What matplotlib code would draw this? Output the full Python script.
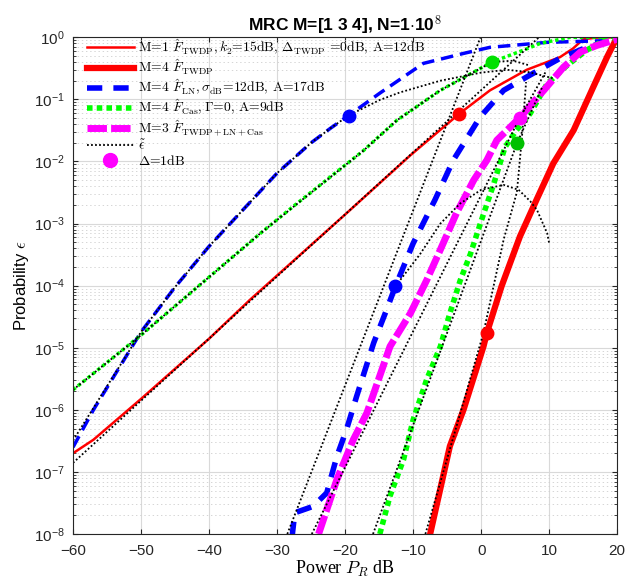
import matplotlib
matplotlib.use('Agg')
import matplotlib.pyplot as plt
from matplotlib.ticker import LogLocator, NullFormatter

plt.rcParams['font.family'] = ['Liberation Sans', 'DejaVu Sans']
plt.rcParams['mathtext.fontset'] = 'cm'
plt.rcParams['lines.scale_dashes'] = False

# simulated curves (P in dB, probability)
p_twdp1 = [-60, -57, -50, -40, -34, -20, -10.4, -3.2, 1.3, 6.7, 11.6, 13.5, 15, 17, 20]
f_twdp1 = [2.0e-7, 3.3e-7, 1.5e-6, 1.4e-5, 5.9e-5, 1.4e-3, 1.26e-2, 5.9e-2, 0.14, 0.30, 0.48, 0.66, 0.93, 0.99, 1.0]

p_twdp4 = [-7.5, -4.6, -2.6, 0.34, 0.84, 3.0, 5.7, 8.2, 10.6, 13.6, 16.5, 18.5, 19.5, 20]
f_twdp4 = [1e-8, 2.6e-7, 1.0e-6, 1.05e-5, 1.74e-5, 9.8e-5, 6.2e-4, 2.5e-3, 9.3e-3, 3.2e-2, 0.16, 0.48, 0.79, 1.0]

p_ln1 = [-60, -57, -50, -45, -40, -35.4, -30, -25, -22.2, -19.5, -14.9, -8.5, -2.6, 1.3, 9.7, 19.4, 20]
f_ln1 = [2.5e-7, 1.0e-6, 1.8e-5, 9.5e-5, 4.3e-4, 1.5e-3, 6.5e-3, 2.0e-2, 3.4e-2, 5.5e-2, 0.126, 0.38,
         0.55, 0.69, 0.83, 0.89, 0.89]

p_ln4 = [-27.8, -27.4, -25.5, -24.7, -22.7, -21.2, -19.8, -18.3, -15.8, -13.9, -12.6, -10, -6.8,
         -4.1, -0.15, 3.3, 6.7, 11.6, 15.5, 19.4, 20]
f_ln4 = [9e-9, 2.2e-8, 2.6e-8, 2.8e-8, 4.6e-8, 1.8e-7, 4.8e-7, 1.66e-6, 1.2e-5, 4.1e-5, 9.8e-5,
         4.8e-4, 2.4e-3, 1.05e-2, 5.2e-2, 0.14, 0.23, 0.46, 0.69, 0.89, 0.91]

p_cas1 = [-60, -50, -32.5, -27.6, -17.3, -12.4, -6, 1.6, 6.2, 8.7, 13.1, 20]
f_cas1 = [2.1e-6, 1.6e-5, 6.9e-4, 1.9e-3, 1.5e-2, 4.6e-2, 0.14, 0.40, 0.62, 0.8, 1.0, 1.0]

p_cas4 = [-14.9, -13.4, -11.4, -10, -8.0, -6.0, -4.6, -3.1, -1.6, 0.0, 1.8, 3.5, 5.2, 7.2, 9.7,
          12.6, 15.5, 18.5, 20]
f_cas4 = [1e-8, 4.1e-8, 1.6e-7, 6.9e-7, 3.1e-6, 1.05e-5, 3.6e-5, 1.2e-4, 3.2e-4, 1.1e-3, 4.2e-3,
          1.7e-2, 3.2e-2, 5.9e-2, 0.18, 0.35, 0.62, 0.95, 1.0]

p_mix3 = [-23.9, -21.2, -18.8, -16.8, -13.4, -10.4, -8.0, -6.0, -3.6, -1.1, 0.84, 2.3, 5.7, 9.2,
          12.1, 14.6, 17.0, 19.4, 20]
f_mix3 = [1e-8, 7.6e-8, 3.3e-7, 8.9e-7, 1.05e-5, 3.6e-5, 1.23e-4, 3.8e-4, 1.5e-3, 5.0e-3, 1.05e-2,
          2.2e-2, 5.1e-2, 0.14, 0.33, 0.58, 0.74, 0.89, 0.93]

# approximations (black dotted)
p_e_twdp1 = [-60, 8.5]
e_twdp1 = [1.4e-7, 1.0]
p_e_ln1 = [-60, -50, -45, -40, -35.4, -30, -25, -22.2, -19.5, -14.9, -11.9, -6, 0, 3.8, 7, 10.5]
e_ln1 = [3.2e-7, 1.8e-5, 9.5e-5, 4.3e-4, 1.5e-3, 6.5e-3, 2.0e-2, 3.4e-2, 5.5e-2, 9.8e-2, 0.13, 0.20,
         0.27, 0.30, 0.275, 0.22]
p_e_cas1 = [-60, -50, -32.5, -17.3, -12.4, -6, 1.6, 4.7, 7]
e_cas1 = [2.1e-6, 1.6e-5, 6.9e-4, 1.5e-2, 4.6e-2, 0.14, 0.40, 0.42, 0.355]
p_e_ln4 = [-28.5, -0.1]
e_ln4 = [1e-8, 1.0]
p_e_ln4b = [-12.6, -9, -6, -3.1, 0, 3.3, 5.5, 7.2, 8.2, 9.7, 10]
e_ln4b = [9.8e-5, 3.2e-4, 1.0e-3, 2.1e-3, 3.5e-3, 4.2e-3, 3.5e-3, 2.3e-3, 1.66e-3, 7e-4, 4.8e-4]
p_e_mix3 = [-24.9, 5.7, 9.5]
e_mix3 = [1e-8, 5.1e-2, 0.28]
p_e_cas4 = [-15.9, 5.25, 9.0]
e_cas4 = [1e-8, 1.95e-2, 0.16]
p_e_twdp4 = [-8.2, 0.34, 3.3, 5.25, 6.0, 6.6]
e_twdp4 = [1e-8, 1.74e-5, 5.5e-4, 3.2e-3, 2.5e-2, 0.19]

# delta = 1 dB points
mk_p = [-3.2, -19.5, 1.6, -12.6, 5.7, 5.25, 0.84]
mk_e = [5.9e-2, 5.5e-2, 0.40, 9.8e-5, 5.1e-2, 1.95e-2, 1.74e-5]
mk_c = ['red', 'blue', '#00e000', 'blue', 'magenta', '#00c000', 'red']

fig = plt.figure(figsize=(6.35, 5.83), dpi=100)
ax = fig.add_axes([0.115, 0.084, 0.857, 0.852])

dot = dict(color='black', lw=1.3, dashes=(1.3, 1.6))

h1, = ax.plot(p_twdp1, f_twdp1, color='red', lw=1.8)
h2, = ax.plot(p_twdp4, f_twdp4, color='red', lw=4.5)
ax.plot(p_ln1, f_ln1, color='blue', lw=2.5, dashes=(9, 5))
h3, = ax.plot(p_ln4, f_ln4, color='blue', lw=4, dashes=(11, 8))
ax.plot(p_cas1, f_cas1, color='#00ff00', lw=2.5, dashes=(2.5, 2))
h4, = ax.plot(p_cas4, f_cas4, color='#00ff00', lw=4, dashes=(4, 3))
h5, = ax.plot(p_mix3, f_mix3, color='magenta', lw=5, dashes=(14, 3))
h6, = ax.plot(p_e_twdp1, e_twdp1, **dot)
for px, ex in [(p_e_ln1, e_ln1), (p_e_cas1, e_cas1), (p_e_ln4, e_ln4), (p_e_ln4b, e_ln4b),
               (p_e_mix3, e_mix3), (p_e_cas4, e_cas4), (p_e_twdp4, e_twdp4)]:
    ax.plot(px, ex, **dot)
for p, e, c in zip(mk_p, mk_e, mk_c):
    ax.plot(p, e, 'o', color=c, ms=9)
h7, = ax.plot([], [], 'o', color='magenta', ms=10)

ax.set_yscale('log')
ax.set_xlim(-60, 20)
ax.set_ylim(1e-8, 1)
ax.set_xticks(range(-60, 21, 10))
ax.yaxis.set_major_locator(LogLocator(base=10, numticks=20))
ax.yaxis.set_minor_locator(LogLocator(base=10, subs=range(2, 10), numticks=20))
ax.yaxis.set_minor_formatter(NullFormatter())
ax.tick_params(which='both', direction='in', top=True, right=True, labelsize=11, colors='#262626')
ax.tick_params(axis='x', pad=7)
ax.tick_params(axis='y', pad=6)
ax.grid(True, which='major', color='#d9d9d9', lw=0.8)
ax.grid(True, which='minor', axis='y', color='#cfcfcf', lw=0.6, ls=(0, (1, 2)))
for s in ax.spines.values():
    s.set_color('#262626')

ax.set_title(r'MRC M=[1 3 4], N=1$\mathbf{\cdot}$10$^{\mathbf{8}}$', fontsize=12.5, fontweight='bold', pad=4)
ax.set_ylabel(r'Probability $\epsilon$', fontsize=12, labelpad=2)
ax.set_xlabel(r'Power $P_R$ dB', fontsize=13, family='Liberation Serif', labelpad=1)

labels = [r'M=1 $\hat{F}_{\mathrm{TWDP}}, k_2$=15dB, $\Delta_{\mathrm{TWDP}}$ =0dB, A=12dB',
          r'M=4 $\hat{F}_{\mathrm{TWDP}}$',
          r'M=4 $\hat{F}_{\mathrm{LN}}, \sigma_{\mathrm{dB}}$=12dB, A=17dB',
          r'M=4 $\hat{F}_{\mathrm{Cas}}, \Gamma$=0, A=9dB',
          r'M=3 $\hat{F}_{\mathrm{TWDP+LN+Cas}}$',
          r'$\tilde{\epsilon}$',
          r'$\Delta$=1dB']
ax.legend([h1, h2, h3, h4, h5, h6, h7], labels, loc='upper left', bbox_to_anchor=(0.02, 1.005),
          frameon=False, prop={'family': 'cmr10', 'size': 9.8}, handlelength=3.5,
          labelspacing=0.08, handletextpad=0.3, borderaxespad=0.0, borderpad=0.2)

fig.savefig('out.png', dpi=100)
